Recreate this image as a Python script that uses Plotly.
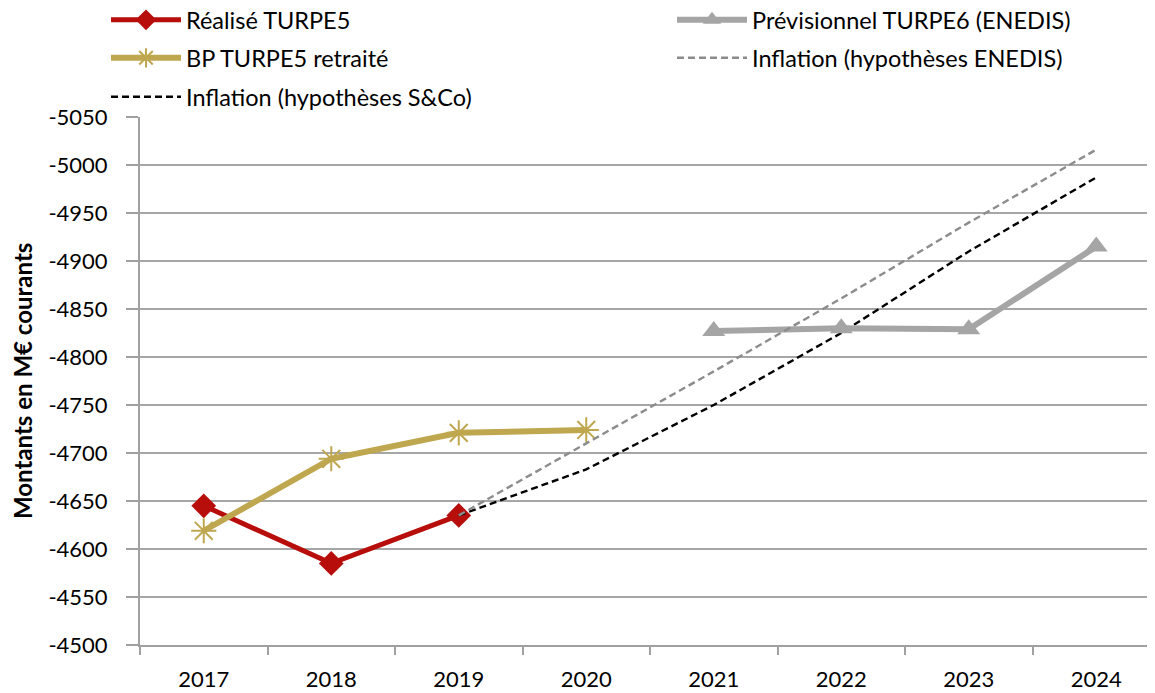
import plotly.graph_objects as go

years = ["2017", "2018", "2019", "2020", "2021", "2022", "2023", "2024"]

realise_years = ["2017", "2018", "2019"]
realise_vals = [-4645, -4585, -4635]

bp_years = ["2017", "2018", "2019", "2020"]
bp_vals = [-4619, -4694, -4721, -4724]

prev_years = ["2021", "2022", "2023", "2024"]
prev_vals = [-4827, -4830, -4829, -4915]

infl_years = ["2019", "2020", "2021", "2022", "2023", "2024"]
infl_enedis_vals = [-4635, -4710, -4785, -4861, -4940, -5016]
infl_sco_vals = [-4635, -4683, -4750, -4825, -4910, -4987]

y_ticks = list(range(-5050, -4499, 50))
y_tick_text = [str(v) for v in y_ticks]

FONT = "Lato"
W, H = 1155, 693
ML, MR, MT, MB = 132, 3, 109, 56

fig = go.Figure()
fig.add_trace(go.Scatter(
    x=realise_years, y=realise_vals, name="Réalisé TURPE5", mode="lines+markers",
    line=dict(color="#B70E0C", width=5),
    marker=dict(symbol="diamond", size=19, color="#B70E0C"), legend="legend"))
fig.add_trace(go.Scatter(
    x=bp_years, y=bp_vals, name="BP TURPE5 retraité", mode="lines+markers",
    line=dict(color="#BFA74F", width=6),
    marker=dict(symbol="asterisk-open", size=21, color="#BFA74F",
                line=dict(color="#BFA74F", width=2)), legend="legend2"))
fig.add_trace(go.Scatter(
    x=infl_years, y=infl_sco_vals, name="Inflation (hypothèses S&Co)", mode="lines",
    line=dict(color="#000000", width=2.4, dash="7px,4px"), legend="legend3"))
fig.add_trace(go.Scatter(
    x=prev_years, y=prev_vals, name="Prévisionnel TURPE6 (ENEDIS)", mode="lines+markers",
    line=dict(color="#A5A5A5", width=6),
    marker=dict(symbol="triangle-up", size=20, color="#A5A5A5"), legend="legend4"))
fig.add_trace(go.Scatter(
    x=infl_years, y=infl_enedis_vals, name="Inflation (hypothèses ENEDIS)", mode="lines",
    line=dict(color="#8C8C8C", width=2.4, dash="7px,4px"), legend="legend5"))

def leg(xpx, ypx):
    return dict(x=xpx / W, y=1 - ypx / H, xref="container", yref="container",
                xanchor="left", yanchor="middle", bgcolor="rgba(0,0,0,0)",
                font=dict(family=FONT, size=23.5, color="#000000"), itemwidth=70)

fig.update_layout(
    width=W, height=H,
    margin=dict(l=ML, r=MR, t=MT, b=MB, autoexpand=False),
    paper_bgcolor="white", plot_bgcolor="white",
    font=dict(family=FONT, size=22, color="#000000"),
    showlegend=True,
    legend=leg(98, 12),
    legend2=leg(98, 50),
    legend3=leg(98, 89),
    legend4=leg(664, 12),
    legend5=leg(664, 50),
    xaxis=dict(
        type="category", categoryorder="array", categoryarray=years,
        range=[-0.5, 7.5],
        showline=True, linecolor="#A0A0A0", linewidth=2,
        ticks="outside", ticklen=8, tickcolor="#A0A0A0", tickwidth=1.5,
        tickson="boundaries", showgrid=False, ticklabelstandoff=14,
        tickangle=0,
        tickfont=dict(family=FONT, size=22),
    ),
    yaxis=dict(
        range=[-4500, -5050], tickvals=y_ticks, ticktext=y_tick_text,
        showline=True, linecolor="#A0A0A0", linewidth=2,
        ticks="outside", ticklen=12, tickcolor="#A0A0A0", tickwidth=1.5,
        showgrid=True, gridcolor="#A6A6A6", gridwidth=2,
        zeroline=False, ticklabelstandoff=14,
        tickfont=dict(family=FONT, size=22),
    ),
    annotations=[dict(
        text="<b>Montants en M€ courants</b>", textangle=-90,
        xref="paper", yref="paper", x=(14 - ML) / (W - ML - MR), y=0.5,
        xanchor="center", yanchor="middle", showarrow=False,
        font=dict(family=FONT, size=24, color="#000000"))],
)

fig.write_html("out.html")
